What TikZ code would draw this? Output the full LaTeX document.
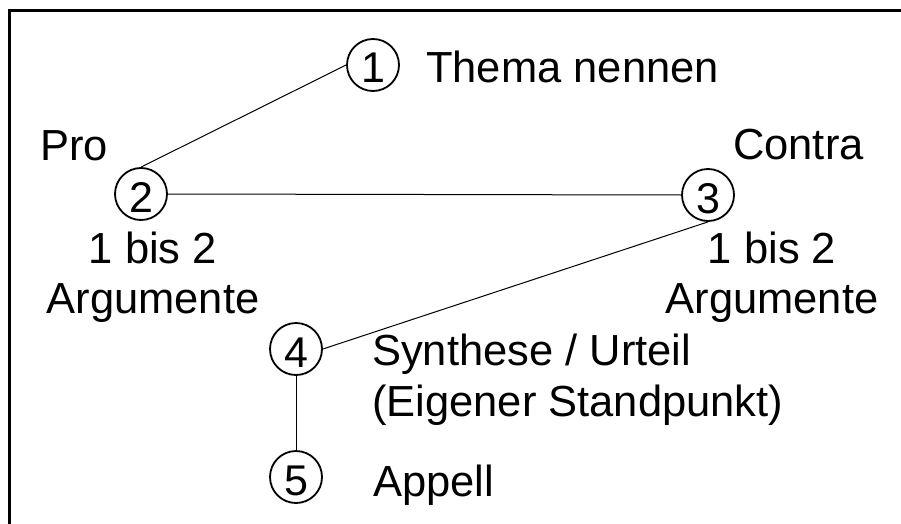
\documentclass[tikz,border=0pt]{standalone}
\usepackage{fontspec}
\setmainfont{Liberation Sans}
\begin{document}
\begin{tikzpicture}[x=1pt,y=-1pt,
  numnode/.style={circle,draw,line width=1.8pt,minimum size=52pt,inner sep=0pt,text height=36pt,text depth=0pt,font=\fontsize{43}{50}\selectfont},
  lbl/.style={inner sep=0pt,font=\fontsize{43.5}{50}\selectfont},
  conn/.style={line width=1pt}]
\useasboundingbox (0,0) rectangle (901,524);
\fill[white] (0,0) rectangle (901,524);
\draw[line width=2.6pt] (9.5,524) -- (9.5,10.5) -- (901,10.5);
\node[numnode] (n1) at (373,65) {1};
\node[numnode] (n2) at (141,194) {2};
\node[numnode] (n3) at (708,195) {3};
\node[numnode] (n4) at (296,349) {4};
\node[numnode] (n5) at (296,477) {5};
\node[lbl,anchor=base west] (t1) at (426,83) {Thema nennen};
\node[lbl,anchor=base west] (pro) at (40,160) {Pro};
\node[lbl,anchor=base] (pa1) at (153,263) {1 bis 2};
\node[lbl,anchor=base] (pa2) at (153,313) {Argumente};
\node[lbl,anchor=base west] (contra) at (733,159) {Contra};
\node[lbl,anchor=base] (ca1) at (772,263) {1 bis 2};
\node[lbl,anchor=base] (ca2) at (772,313) {Argumente};
\node[lbl,anchor=base west] (s1) at (372,365) {Synthese / Urteil};
\node[lbl,anchor=base west] (s2) at (372,416) {(Eigener Standpunkt)};
\node[lbl,anchor=base west] (ap) at (373,496) {Appell};
\draw[conn] (n1.west) -- (n2.north);
\draw[conn] (n2.east) -- (n3.west);
\draw[conn] (n3.south) -- (n4.east);
\draw[conn] (n4.south) -- (n5.north);
\end{tikzpicture}
\end{document}
